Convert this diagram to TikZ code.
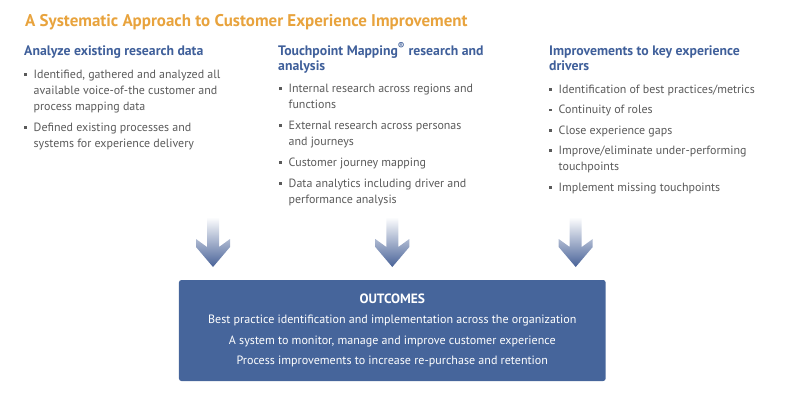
\documentclass[tikz,border=0pt]{standalone}
\usepackage{fontspec}
\setmainfont{PT Sans}
\usetikzlibrary{positioning}
\definecolor{TitleOrange}{RGB}{232,163,61}
\definecolor{HeadBlue}{RGB}{63,95,154}
\definecolor{BodyGrey}{RGB}{90,90,90}
\definecolor{BoxBlue}{RGB}{70,101,155}
\definecolor{ArrowBlue}{RGB}{72,98,152}
\newlength{\bulw}
\setlength{\bulw}{9.5bp}
\newcommand{\itm}{\makebox[\bulw][l]{\raisebox{2.5bp}{\rule{2.7bp}{2.7bp}}}}
\newcommand{\ind}{\hspace*{\bulw}}
\tikzset{
  title/.style={anchor=base west,inner sep=0pt,font=\bfseries\fontsize{17}{20}\selectfont,text=TitleOrange},
  head/.style={anchor=base west,inner sep=0pt,align=left,font=\bfseries\fontsize{13.8}{15}\selectfont,text=HeadBlue},
  body/.style={anchor=base west,inner sep=0pt,align=left,font=\fontsize{12}{16}\selectfont,text=BodyGrey},
  outbox/.style={rounded corners=2.5pt,fill=BoxBlue,text=white,align=center,inner sep=0pt,
    minimum width=426.7bp,minimum height=101bp,font=\fontsize{12.1}{20.4}\selectfont},
  downarrow/.pic={
    \shade[top color=white,bottom color=ArrowBlue]
      (-6,0) -- (6,0) -- (6,30) -- (17,22) -- (17,30) -- (0,50)
      -- (-17,30) -- (-17,22) -- (-6,30) -- cycle;
  }
}
\begin{document}
\begin{tikzpicture}[x=1bp,y=-1bp]
  \useasboundingbox (0,0) rectangle (789,405);
  \node[title] (ttl) at (25,26) {A Systematic Approach to Customer Experience Improvement};
  % column headings (placed at the baseline of their last line)
  \node[head] (h1) at (24,55.5) {Analyze existing research data};
  \node[head] (h2) at (278,70) {Touchpoint Mapping\textsuperscript{\textregistered} research and\\analysis};
  \node[head] (h3) at (549,70) {Improvements to key experience\\drivers};
  % bullet lists
  \node[body] (b1) at (24,147) {\itm Identified, gathered and analyzed all\\
    \ind available voice-of-the customer and\\
    \ind process mapping data\\[5bp]
    \itm Defined existing processes and\\
    \ind systems for experience delivery};
  \node[body] (b2) at (279,203.3) {\itm Internal research across regions and\\
    \ind functions\\[5bp]
    \itm External research across personas\\
    \ind and journeys\\[5bp]
    \itm Customer journey mapping\\[5bp]
    \itm Data analytics including driver and\\
    \ind performance analysis};
  \node[body] (b3) at (549,191) {\itm Identification of best practices/metrics\\[4.5bp]
    \itm Continuity of roles\\[4.5bp]
    \itm Close experience gaps\\[4.5bp]
    \itm Improve/eliminate under-performing\\
    \ind touchpoints\\[4.5bp]
    \itm Implement missing touchpoints};
  % arrows into the outcomes box
  \coordinate (a1) at (213,217);
  \coordinate (a2) at (392.3,217);
  \coordinate (a3) at (575.7,217);
  \pic at (a1) {downarrow};
  \pic at (a2) {downarrow};
  \pic at (a3) {downarrow};
  \node[outbox] (out) at (392.3,330.5) {{\bfseries\fontsize{13.5}{20.4}\selectfont OUTCOMES}\\
    Best practice identification and implementation across the organization\\
    A system to monitor, manage and improve customer experience\\
    Process improvements to increase re-purchase and retention};
\end{tikzpicture}
\end{document}
